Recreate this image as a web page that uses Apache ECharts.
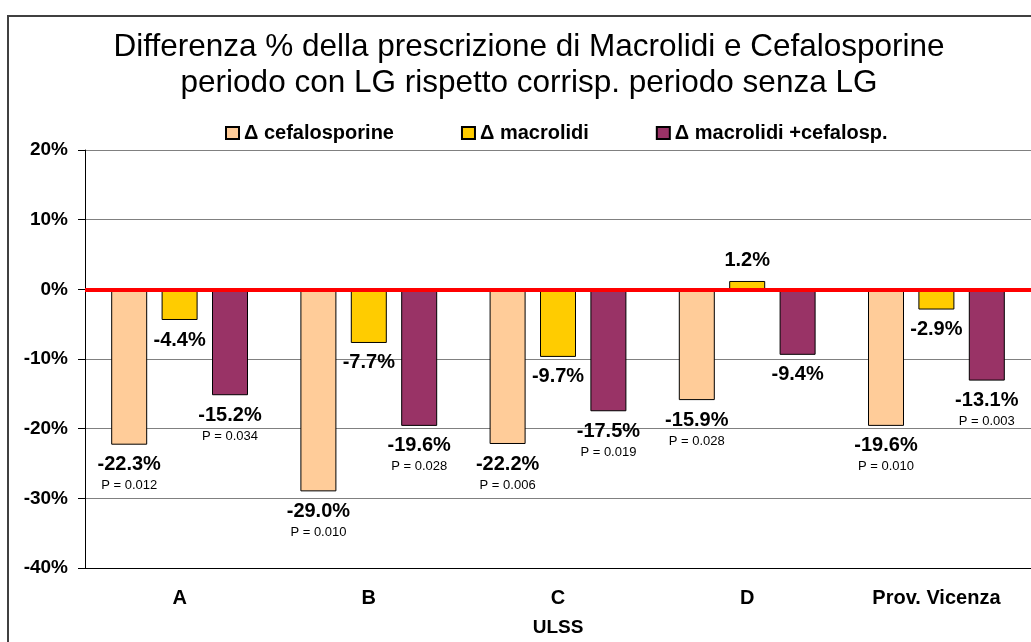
<!DOCTYPE html>
<html>
<head>
<meta charset="utf-8">
<script src="https://cdn.jsdelivr.net/npm/echarts@6/dist/echarts.min.js"></script>
<style>
    html, body { margin: 0; padding: 0; background: #fff; }
    #chart { width: 1031px; height: 642px; }
</style>
</head>
<body>
<div id="chart"></div>
<script>
// categorie (ULSS)
var categories = ['A', 'B', 'C', 'D', 'Prov. Vicenza'];
// differenze %
var cefalosporine = [-22.3, -29.0, -22.2, -15.9, -19.6];
var macrolidi = [-4.4, -7.7, -9.7, 1.2, -2.9];
var macroCefalo = [-15.2, -19.6, -17.5, -9.4, -13.1];
// valori P (null = non riportato)
var pCefalosporine = ['0.012', '0.010', '0.006', '0.028', '0.010'];
var pMacrolidi = [null, null, null, null, null];
var pMacroCefalo = ['0.034', '0.028', '0.019', null, '0.003'];
// tacche asse y
var yTicks = [20, 10, 0, -10, -20, -30, -40];

var FONT = 'Arial, "Liberation Sans", sans-serif';

function makeLabel(pList) {
    return {
        show: true,
        position: 'outside',
        distance: 9,
        fontFamily: FONT,
        fontWeight: 'bold',
        fontSize: 20,
        color: '#000',
        formatter: function (p) {
            var txt = '{v|' + p.value.toFixed(1) + '%}';
            if (pList[p.dataIndex]) {
                txt += '\n{p|P = ' + pList[p.dataIndex] + '}';
            }
            return txt;
        },
        rich: {
            v: { fontFamily: FONT, fontSize: 20, fontWeight: 'bold', color: '#000', lineHeight: 22 },
            p: { fontFamily: FONT, fontSize: 13, fontWeight: 'normal', color: '#000', lineHeight: 20 }
        }
    };
}

function makeSeries(name, data, color, pList) {
    return {
        name: name,
        type: 'bar',
        data: data,
        barWidth: 36,
        barGap: '40%',
        itemStyle: { color: color, borderColor: '#000', borderWidth: 1 },
        label: makeLabel(pList)
    };
}

var chart = echarts.init(document.getElementById('chart'));

var series = [
    makeSeries('Δ cefalosporine', cefalosporine, '#FFCC99', pCefalosporine),
    makeSeries('Δ macrolidi', macrolidi, '#FFCC00', pMacrolidi),
    makeSeries('Δ macrolidi +cefalosp.', macroCefalo, '#993366', pMacroCefalo)
];
// linea rossa sullo zero
series[2].markLine = {
    silent: true,
    symbol: 'none',
    label: { show: false },
    lineStyle: { color: '#FF0000', width: 4, type: 'solid' },
    data: [{ yAxis: 0 }],
    z: 10
};

var option = {
    animation: false,
    backgroundColor: '#fff',
    textStyle: { fontFamily: FONT },
    title: {
        text: 'Differenza % della prescrizione di Macrolidi e Cefalosporine\nperiodo con LG rispetto corrisp. periodo senza LG',
        left: 524,
        top: 24,
        textAlign: 'center',
        textStyle: { fontFamily: FONT, fontSize: 31.5, fontWeight: 'normal', color: '#000', lineHeight: 36 }
    },
    legend: {
        left: 220,
        top: 118,
        itemWidth: 13,
        itemHeight: 12,
        itemGap: 67,
        icon: 'rect',
        textStyle: { fontFamily: FONT, fontSize: 20, fontWeight: 'bold', color: '#000' },
        data: ['Δ cefalosporine', 'Δ macrolidi', 'Δ macrolidi +cefalosp.']
    },
    graphic: [{
        type: 'rect',
        shape: { x: 8, y: 16, width: 1100, height: 700 },
        style: { fill: 'none', stroke: '#404040', lineWidth: 2 },
        silent: true,
        z: -1
    }],
    grid: { left: 85, top: 150, width: 955, height: 418 },
    xAxis: {
        type: 'category',
        data: categories,
        axisLine: { onZero: false, lineStyle: { color: '#000', width: 1 } },
        axisTick: { show: false },
        axisLabel: { fontFamily: FONT, fontSize: 20, fontWeight: 'bold', color: '#000', margin: 20 },
        name: 'ULSS',
        nameLocation: 'middle',
        nameGap: 50,
        nameTextStyle: { fontFamily: FONT, fontSize: 19, fontWeight: 'bold', color: '#000' }
    },
    yAxis: {
        type: 'value',
        min: yTicks[yTicks.length - 1],
        max: yTicks[0],
        interval: 10,
        axisLine: { show: true, lineStyle: { color: '#000', width: 1 } },
        axisTick: { show: true, length: 7, lineStyle: { color: '#000' } },
        axisLabel: {
            fontFamily: FONT, fontSize: 19, fontWeight: 'bold', color: '#000', margin: 17,
            formatter: function (v) { return v + '%'; }
        },
        splitLine: { show: true, lineStyle: { color: '#808080', width: 1 } }
    },
    series: series
};

chart.setOption(option);
</script>
</body>
</html>
